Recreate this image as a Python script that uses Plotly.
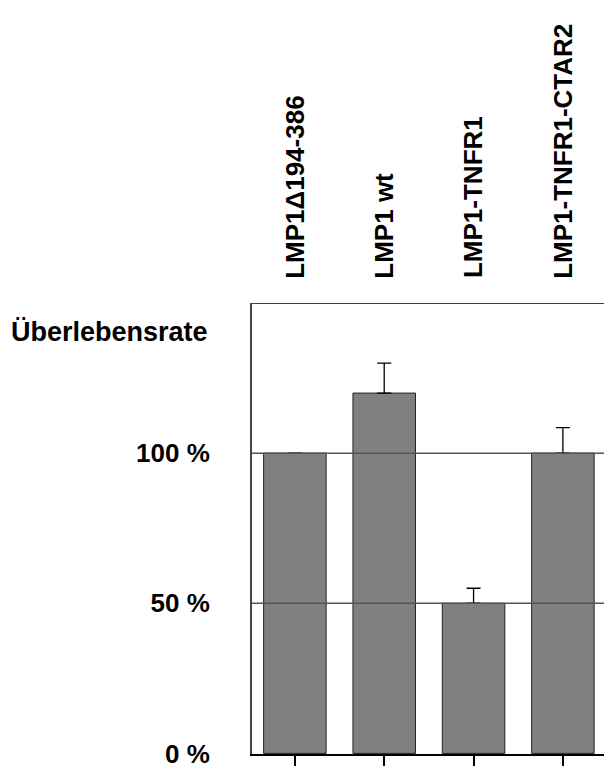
import plotly.graph_objects as go

# Survival rate per construct (percent) and upper error margins
constructs = ["LMP1\u0394194-386", "LMP1 wt", "LMP1-TNFR1", "LMP1-TNFR1-CTAR2"]
survival = [100, 120, 50, 100]
error_up = [None, 10, 5, 8.5]
y_ticks = [0, 50, 100]
y_tick_text = ["0 %", "50 %", "100 %"]
y_title = "\u00dcberlebensrate"

FONT = "Liberation Sans, Arial, sans-serif"
x_pos = list(range(len(constructs)))

fig = go.Figure()
fig.add_trace(go.Bar(
    x=x_pos,
    y=survival,
    width=0.7,
    marker=dict(color="#808080", line=dict(color="#222222", width=1)),
    error_y=dict(type="data", array=error_up, arrayminus=[0] * len(survival),
                 symmetric=False, color="#000000", thickness=1.3, width=7),
    showlegend=False,
))

# horizontal reference lines drawn over the bars, plus the top frame line
shapes = []
for v, col, w in [(50, "#555555", 1.5), (100, "#555555", 1.5), (150, "#000000", 1.5)]:
    shapes.append(dict(type="line", xref="paper", x0=0, x1=1, yref="y", y0=v, y1=v,
                       line=dict(color=col, width=w), layer="above"))

annotations = []
for i, name in enumerate(constructs):
    annotations.append(dict(
        x=i, xref="x", y=1.05, yref="paper", text=f"<b>{name}</b>",
        showarrow=False, textangle=-90, xanchor="center", yanchor="bottom",
        font=dict(family=FONT, size=26, color="#000000"),
    ))
annotations.append(dict(
    x=-0.12, xref="paper", y=140.5, yref="y", text=f"<b>{y_title}</b>",
    showarrow=False, xanchor="right", yanchor="middle",
    font=dict(family=FONT, size=27, color="#000000"),
))

fig.update_layout(
    width=604, height=768,
    margin=dict(l=252, r=0, t=303, b=14),
    paper_bgcolor="white", plot_bgcolor="white",
    shapes=shapes, annotations=annotations,
)
fig.update_xaxes(
    range=[-0.48, 3.46], tickvals=x_pos, ticktext=[""] * len(x_pos),
    ticks="outside", ticklen=10, tickwidth=1.5, tickcolor="#000000",
    showline=True, linecolor="#000000", linewidth=2, showgrid=False, zeroline=False,
)
fig.update_yaxes(
    range=[-0.2, 150], tickvals=y_ticks, ticktext=[f"<b>{t}</b>" for t in y_tick_text],
    ticks="", ticklabelstandoff=35, ticklabeloverflow="allow",
    tickfont=dict(family=FONT, size=26, color="#000000"),
    showline=True, linecolor="#444444", linewidth=2, showgrid=False, zeroline=False,
)

fig.write_html("out.html")
